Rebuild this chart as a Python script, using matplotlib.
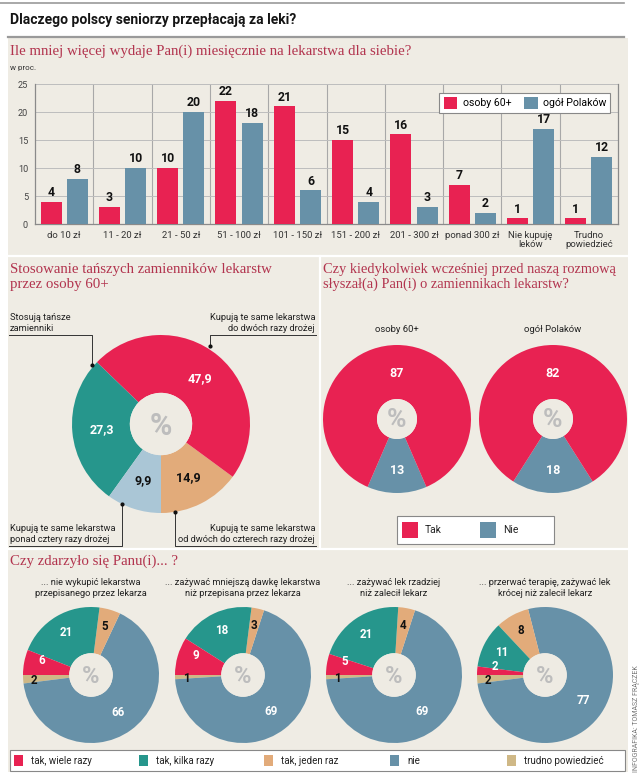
import matplotlib
matplotlib.use('Agg')
import matplotlib.pyplot as plt
from matplotlib.patches import Rectangle, Circle
import numpy as np

W, H = 640, 777
plt.rcParams['font.family'] = ['Roboto', 'DejaVu Sans']

# ---------------- data ----------------
bar_categories = ['do 10 zł', '11 - 20 zł', '21 - 50 zł', '51 - 100 zł', '101 - 150 zł',
                  '151 - 200 zł', '201 - 300 zł', 'ponad 300 zł', 'Nie kupuję\nleków',
                  'Trudno\npowiedzieć']
seniors = [4, 3, 10, 22, 21, 15, 16, 7, 1, 1]
all_poles = [8, 10, 20, 18, 6, 4, 3, 2, 17, 12]
bar_series = ['osoby 60+', 'ogół Polaków']
y_ticks = [0, 5, 10, 15, 20, 25]

subst_labels = ['Kupują te same lekarstwa\nod dwóch do czterech razy drożej',
                'Kupują te same lekarstwa\ndo dwóch razy drożej',
                'Stosują tańsze\nzamienniki',
                'Kupują te same lekarstwa\nponad cztery razy drożej']
subst_values = [14.9, 47.9, 27.3, 9.9]

heard_groups = ['osoby 60+', 'ogół Polaków']
heard_labels = ['Nie', 'Tak']
heard_nie = [13, 18]
heard_tak = [87, 82]

q_titles = ['... nie wykupić lekarstwa\nprzepisanego przez lekarza',
            '... zażywać mniejszą dawkę lekarstwa\nniż przepisana przez lekarza',
            '... zażywać lek rzadziej\nniż zalecił lekarz',
            '... przerwać terapię, zażywać lek\nkrócej niż zalecił lekarz']
q_legend = ['tak, wiele razy', 'tak, kilka razy', 'tak, jeden raz', 'nie', 'trudno powiedzieć']
q_wiele = [6, 9, 5, 2]
q_kilka = [21, 18, 21, 11]
q_jeden = [5, 3, 4, 8]
q_nie = [66, 69, 69, 77]
q_trudno = [2, 1, 1, 2]

# ---------------- styles ----------------
RED = '#E82252'
BLUE = '#6791A8'
TEAL = '#26968C'
TAN = '#E2AB7A'
LBLUE = '#AAC6D6'
KHAKI = '#CFB886'
BG = '#EFECE4'
HOLE = '#EEEBE3'
TITLE_C = '#B2344E'
SERIF = ['Liberation Serif', 'DejaVu Serif']
TITLE_FS = 10.7

fig = plt.figure(figsize=(W / 100, H / 100), dpi=100)
fig.patch.set_facecolor('white')


def axes_px(x0, y0, x1, y1, **kw):
    return fig.add_axes([x0 / W, 1 - y1 / H, (x1 - x0) / W, (y1 - y0) / H], **kw)


bg = axes_px(0, 0, W, H)
bg.set_xlim(0, W); bg.set_ylim(H, 0); bg.axis('off'); bg.set_zorder(-5)
bg.add_patch(Rectangle((8, 38), 620, 734, color=BG, lw=0))
bg.plot([0, 624], [3, 3], color='#9a9a9a', lw=1.2)
bg.plot([8, 624], [37, 37], color='#9a9a9a', lw=1.6)
bg.plot([8, 628], [256, 256], color='white', lw=1.6)
bg.plot([320, 320], [256, 549], color='white', lw=1.6)
bg.plot([8, 628], [549, 549], color='white', lw=1.6)

fg = axes_px(0, 0, W, H)
fg.set_xlim(0, W); fg.set_ylim(H, 0); fg.axis('off'); fg.set_zorder(10)
fg.patch.set_alpha(0)

fg.text(10, 20, 'Dlaczego polscy seniorzy przepłacają za leki?', fontsize=10,
        fontweight='bold', color='#151515', va='center', ha='left')
fg.text(636, 772, 'INFOGRAFIKA: TOMASZ FRĄCZEK', fontsize=5, color='#777777',
        rotation=90, ha='center', va='bottom')

# ---------------- bar chart ----------------
fg.text(10, 51, 'Ile mniej więcej wydaje Pan(i) miesięcznie na lekarstwa dla siebie?',
        family=SERIF, fontsize=TITLE_FS, color=TITLE_C, va='center')
fg.text(10, 68, 'w proc.', fontsize=5.8, color='#333333', va='center')

axb = axes_px(35, 84, 618, 224)
axb.patch.set_alpha(0)
x = np.arange(len(bar_categories))
b1 = axb.bar(x - 0.225, seniors, width=0.36, color=RED, label=bar_series[0], zorder=3)
b2 = axb.bar(x + 0.225, all_poles, width=0.36, color=BLUE, label=bar_series[1], zorder=3)
axb.bar_label(b1, padding=2, fontsize=8.8, fontweight='bold', color='#111111')
axb.bar_label(b2, padding=2, fontsize=8.8, fontweight='bold', color='#111111')
axb.set_xlim(-0.5, len(bar_categories) - 0.5)
axb.set_ylim(0, 25)
axb.set_yticks(y_ticks)
axb.set_xticks(x)
axb.set_xticklabels(bar_categories, fontsize=6.8, color='#333333', linespacing=1.05)
axb.tick_params(axis='both', length=0, pad=5)
axb.tick_params(axis='y', labelsize=6.6, labelcolor='#444444', pad=5)
axb.set_xticks(np.arange(0.5, len(bar_categories) - 0.5), minor=True)
axb.tick_params(axis='x', which='minor', length=0)
axb.grid(axis='y', color='#bdbdbd', lw=0.7, zorder=0)
axb.grid(axis='x', which='minor', color='#a8a8a8', lw=0.8, zorder=0)
for s in ['left', 'bottom', 'right']:
    axb.spines[s].set_color('#8a8a8a'); axb.spines[s].set_linewidth(0.9)
axb.spines['top'].set_visible(False)
leg = axb.legend(loc='upper right', bbox_to_anchor=(0.996, 0.975), ncol=2, fontsize=7.6,
                 frameon=True, fancybox=False, edgecolor='#888888', facecolor='white',
                 framealpha=1, handlelength=1.3, handleheight=1.3, columnspacing=1.2,
                 handletextpad=0.5, borderpad=0.4)
leg.get_frame().set_linewidth(0.8)

# ---------------- substitutes donut ----------------
fg.text(10, 277, 'Stosowanie tańszych zamienników lekarstw\nprzez osoby 60+', family=SERIF,
        fontsize=TITLE_FS, color=TITLE_C, va='center', linespacing=1.15)


def donut(cx, cy, R, values, colors, startangle, hole, pct_size):
    ax = axes_px(cx - R, cy - R, cx + R, cy + R)
    wedges, _ = ax.pie(values, colors=colors, startangle=startangle, counterclock=True,
                       radius=1, wedgeprops=dict(width=1 - hole, linewidth=0))
    ax.add_patch(Circle((0, 0), hole, color=HOLE, lw=0))
    ax.text(0, -0.02, '%', fontsize=pct_size, fontweight='bold', color='#BDBDBD',
            ha='center', va='center')
    ax.set_xlim(-1, 1); ax.set_ylim(-1, 1); ax.set_aspect('equal'); ax.axis('off')
    return ax, wedges


def label_wedges(ax, wedges, texts, colors, radii, shifts=None, size=8):
    for i, (w, t, c) in enumerate(zip(wedges, texts, colors)):
        mid = (w.theta1 + w.theta2) / 2 + (0 if shifts is None else shifts[i])
        a = np.deg2rad(mid)
        ax.text(radii[i] * np.cos(a), radii[i] * np.sin(a), t, color=c, fontsize=size,
                fontweight='bold', ha='center', va='center')


ax_s, w_s = donut(161, 424, 89, subst_values, [TAN, RED, TEAL, LBLUE], 270, 0.35, 22)
label_wedges(ax_s, w_s, [f'{v:.1f}'.replace('.', ',') for v in subst_values],
             ['#111111', 'white', 'white', '#111111'], [0.67] * 4, size=9)

ann_fs = 6.7
# top-left
fg.text(10, 323, subst_labels[2], fontsize=ann_fs, color='#222222', va='center', ha='left',
        linespacing=1.25)
fg.plot([9, 92, 92], [335, 335, 365], color='#333333', lw=0.7)
fg.plot([92], [365], 'o', color='#111111', ms=2)
# top-right
fg.text(315, 323, subst_labels[1], fontsize=ann_fs, color='#222222', va='center', ha='right',
        linespacing=1.25)
fg.plot([316, 210, 210], [335, 335, 346], color='#333333', lw=0.7)
fg.plot([210], [346], 'o', color='#111111', ms=2)
# bottom-left
fg.text(10, 534, subst_labels[3], fontsize=ann_fs, color='#222222', va='center', ha='left',
        linespacing=1.25)
fg.plot([9, 122, 122], [546, 546, 504], color='#333333', lw=0.7)
fg.plot([122], [504], 'o', color='#111111', ms=2)
# bottom-right
fg.text(315, 534, subst_labels[0], fontsize=ann_fs, color='#222222', va='center', ha='right',
        linespacing=1.25)
fg.plot([316, 175, 175], [546, 546, 512], color='#333333', lw=0.7)
fg.plot([175], [512], 'o', color='#111111', ms=2)

# ---------------- heard about substitutes ----------------
fg.text(323, 277, 'Czy kiedykolwiek wcześniej przed naszą rozmową\nsłyszał(a) Pan(i) o zamiennikach lekarstw?',
        family=SERIF, fontsize=10.4, color=TITLE_C, va='center', linespacing=1.18)
heard_wedges = None
for i, cx in enumerate([397, 553]):
    vals = [heard_nie[i], heard_tak[i]]
    start = 270 - heard_nie[i] * 3.6 / 2
    ax_h, w_h = donut(cx, 419, 74, vals, [BLUE, RED], start, 0.27, 19)
    label_wedges(ax_h, w_h, [str(v) for v in vals], ['white', 'white'], [0.69, 0.61],
                 size=9)
    fg.text(cx, 330, heard_groups[i], fontsize=6.8, color='#222222', ha='center', va='center')
    heard_wedges = w_h

fg.add_patch(Rectangle((397, 516), 157, 28, facecolor='white', edgecolor='#888888', lw=0.8))
fg.add_patch(Rectangle((402, 522), 16, 16, color=heard_wedges[1].get_facecolor(), lw=0))
fg.text(425, 530, heard_labels[1], fontsize=7.4, color='#222222', va='center')
fg.add_patch(Rectangle((480, 522), 16, 16, color=heard_wedges[0].get_facecolor(), lw=0))
fg.text(503, 530, heard_labels[0], fontsize=7.4, color='#222222', va='center')

# ---------------- small donuts ----------------
fg.text(10, 561, 'Czy zdarzyło się Panu(i)... ?', family=SERIF, fontsize=TITLE_FS,
        color=TITLE_C, va='center')
q_colors = [KHAKI, BLUE, TAN, TEAL, RED]
for i, cx in enumerate([91, 243, 394, 545]):
    vals = [q_trudno[i], q_nie[i], q_jeden[i], q_kilka[i], q_wiele[i]]
    ax_q, w_q = donut(cx, 675, 68, vals, q_colors, 180, 0.32, 17)
    label_wedges(ax_q, w_q, [str(v) for v in vals],
                 ['#111111', 'white', '#111111', 'white', 'white'],
                 [0.84, 0.68, 0.74, 0.72, 0.75], shifts=[1.5, 0, 0, 0, -6], size=8.4)
    fg.text(cx, 588, q_titles[i], fontsize=6.7, color='#222222', ha='center', va='center',
            linespacing=1.25)

fg.add_patch(Rectangle((10, 750), 615, 21, facecolor='white', edgecolor='#888888', lw=0.8))
leg_x = [13, 138, 263, 389, 506]
leg_c = [RED, TEAL, TAN, BLUE, KHAKI]
for lx, lc, lt in zip(leg_x, leg_c, q_legend):
    fg.add_patch(Rectangle((lx + 1, 755), 9, 11, color=lc, lw=0))
    fg.text(lx + 18, 761, lt, fontsize=7, color='#222222', va='center')

fig.savefig('out.png', dpi=100, facecolor='white')
